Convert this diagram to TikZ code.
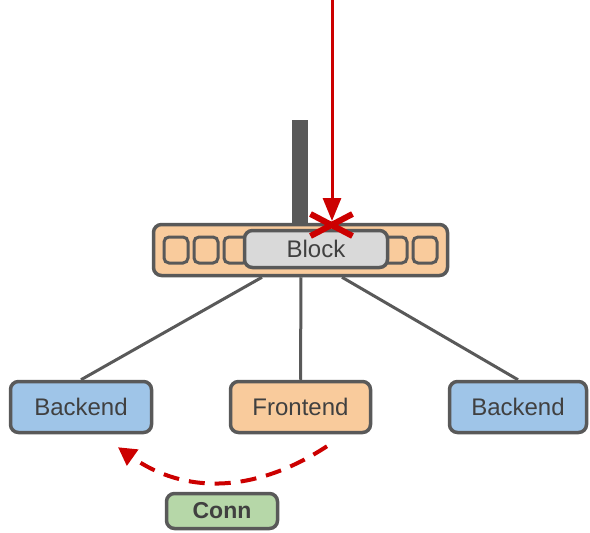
\documentclass[tikz,border=0pt]{standalone}
\usepackage{fontspec}
\setmainfont{Liberation Sans}
\usetikzlibrary{arrows.meta,calc}
\definecolor{edge}{HTML}{595959}
\definecolor{txt}{HTML}{404040}
\definecolor{bluefill}{HTML}{9FC5E8}
\definecolor{orangefill}{HTML}{F9CB9C}
\definecolor{greenfill}{HTML}{B6D7A8}
\definecolor{grayfill}{HTML}{D9D9D9}
\definecolor{alert}{HTML}{CC0000}
\tikzset{
  box/.style={draw=edge, line width=3.5pt, rounded corners=8pt, inner sep=0pt,
    text=txt, font=\fontsize{24}{27}\selectfont, minimum height=51pt},
  slot/.style={draw=edge, line width=3pt, rounded corners=5pt, fill=orangefill,
    minimum width=24pt, minimum height=26pt, inner sep=0pt},
  link/.style={draw=edge, line width=3pt},
  cross/.style={draw=alert, line width=6pt},
}
\begin{document}
\begin{tikzpicture}[x=1pt, y=-1pt]
\useasboundingbox (0,0) rectangle (590,533);

% mast above the switch bar
\fill[edge] (292,120) rectangle (308,224);

% switch bar with its ports
\node[box, fill=orangefill, minimum width=294pt] (bar) at (300.5,250) {};
\foreach \px/\nm in {176/p1, 206/p2, 236/p3, 395/p4, 425/p5}
  \node[slot] (\nm) at (\px,250) {};
\node[box, fill=grayfill, minimum width=143pt, minimum height=37pt] (blk) at (316,249) {Block};

% servers
\node[box, fill=bluefill, minimum width=141pt] (be1) at (81,407) {Backend};
\node[box, fill=orangefill, minimum width=140pt] (fe) at (300.5,407) {Frontend};
\node[box, fill=bluefill, minimum width=137pt] (be2) at (518,407) {Backend};
\node[box, fill=greenfill, minimum width=111pt, minimum height=35pt,
  font=\fontsize{23}{26}\selectfont\bfseries] (conn) at (222,511) {Conn};

% links from the bar to the servers
\draw[link] ($(bar.south)+(-38.5,0)$) -- (be1.north);
\draw[link] ($(bar.south)+(0.5,0)$) -- (fe.north);
\draw[link] ($(bar.south)+(41.5,0)$) -- (be2.north);

% blocked request
\coordinate (src) at (332,0);
\coordinate (hit) at (332,221);
\draw[alert, line width=3pt, -{Triangle[length=23pt,width=18pt]}] (src) -- (hit);
\coordinate (xc) at (331.5,225);
\draw[cross] ($(xc)+(-21,-11)$) -- ($(xc)+(21,11)$);
\draw[cross] ($(xc)+(-21,11)$) -- ($(xc)+(21,-11)$);

% redirected connection
\coordinate (cs) at ($(fe.south)+(26.5,12)$);
\coordinate (ce) at ($(be1.south)+(37,13)$);
\draw[alert, line width=4pt, dash pattern=on 16pt off 10pt,
  -{Triangle[length=18pt,width=19pt]}]
  (cs) .. controls (254,494) and (184,494) .. (ce);
\end{tikzpicture}
\end{document}
